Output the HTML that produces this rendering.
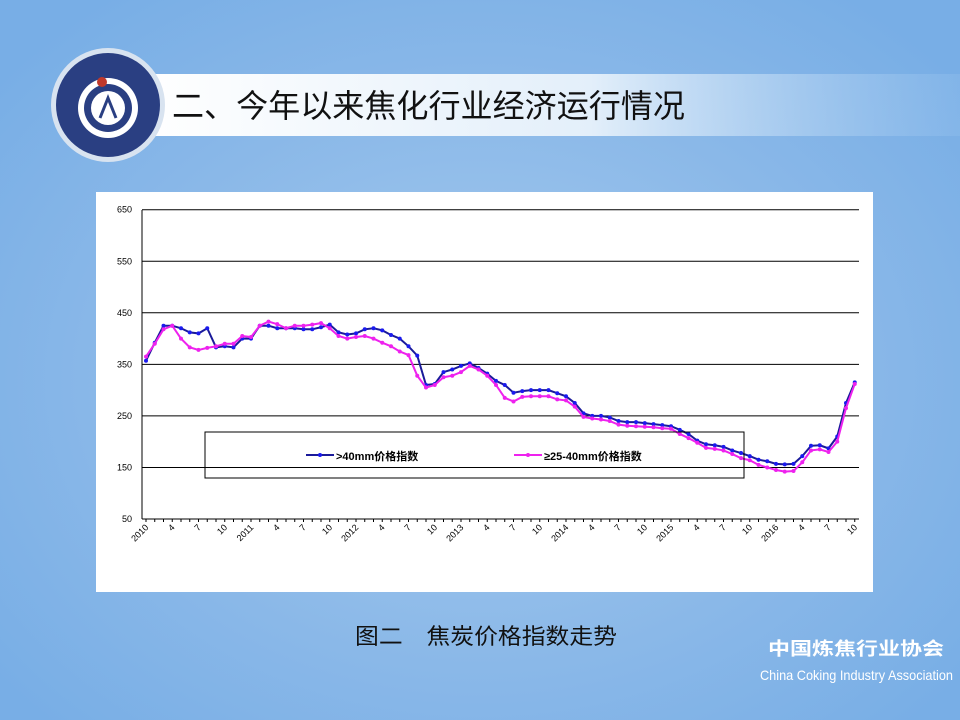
<!DOCTYPE html>
<html><head><meta charset="utf-8"><style>
body{margin:0;width:960px;height:720px;overflow:hidden;font-family:"Liberation Sans","Noto Sans CJK SC",sans-serif}
#bg{position:absolute;left:0;top:0;width:960px;height:720px;background:radial-gradient(ellipse 620px 480px at 480px 380px,#a6cbef 0%,#8ab8e8 60%,#78aee6 100%)}
</style></head><body><div id="bg"></div>
<svg width="960" height="720" style="position:absolute;left:0;top:0" id="s">
<defs><linearGradient id="tb" x1="0" x2="1"><stop offset="0" stop-color="#fff"/><stop offset="0.55" stop-color="#e3effa"/><stop offset="1" stop-color="#98c3ee" stop-opacity="0.3"/></linearGradient></defs>
<rect x="140" y="74" width="820" height="62" fill="url(#tb)"/>
<circle cx="108" cy="105" r="57" fill="#d8e3f0"/>
<circle cx="108" cy="105" r="52" fill="#2a3f82"/>
<circle cx="108" cy="108" r="30" fill="#fff"/>
<circle cx="108" cy="108" r="24" fill="#2a3f82"/>
<circle cx="108" cy="108" r="17" fill="#fff"/>
<path d="M100 118 L108 98 L116 118" stroke="#2a3f82" stroke-width="3" fill="none"/>
<circle cx="102" cy="82" r="5" fill="#c0392b"/>
<text x="172" y="117" font-size="32" textLength="513" lengthAdjust="spacingAndGlyphs" fill="#111">二、今年以来焦化行业经济运行情况</text>
<rect x="96" y="192" width="777" height="400" fill="#fff"/>
<g id="chart" font-size="9" fill="#000"></g>
<rect x="205" y="432" width="539" height="46" fill="none" stroke="#000" stroke-width="1"/>
<line x1="306" y1="455" x2="334" y2="455" stroke="#1a1a9a" stroke-width="2"/><circle cx="320" cy="455" r="2" fill="#1a1aee"/>
<text x="336" y="460" font-size="11" font-weight="bold">&gt;40mm价格指数</text>
<line x1="514" y1="455" x2="542" y2="455" stroke="#ee22ee" stroke-width="2"/><circle cx="528" cy="455" r="2" fill="#ee22ee"/>
<text x="544" y="460" font-size="11" font-weight="bold">≥25-40mm价格指数</text>
<text x="355" y="644" font-size="22" textLength="262" lengthAdjust="spacingAndGlyphs" fill="#111">图二　焦炭价格指数走势</text>
<text x="768" y="655" font-size="18" font-weight="bold" textLength="176" lengthAdjust="spacingAndGlyphs" fill="#fff">中国炼焦行业协会</text>
<text x="760" y="680" font-size="14" textLength="193" lengthAdjust="spacingAndGlyphs" fill="#fff">China Coking Industry Association</text>
</svg>
<script>
var b=[357,392,425,425,420,412,410,420,383,385,383,400,400,425,425,420,420,420,418,418,422,427,412,408,410,418,420,416,407,400,385,367,310,312,335,340,347,352,343,332,318,310,295,298,300,300,300,294,288,275,255,250,250,247,240,238,238,236,234,232,230,223,215,202,195,193,190,183,178,172,165,162,157,156,157,172,192,193,187,210,275,315];
var p=[365,390,418,425,400,383,378,382,385,390,390,405,403,425,433,428,420,425,425,427,430,420,405,400,403,405,400,392,385,375,368,328,305,310,325,328,335,347,340,328,310,285,278,287,288,288,288,282,280,268,248,245,243,240,233,231,230,229,228,226,225,215,207,198,188,186,183,176,168,164,155,150,145,142,143,160,183,185,180,200,265,312];
var g=document.getElementById('chart'),h='';
function Y(v){return 519-(v-50)*0.5155}
function X(i){return 146+i*8.75}
[650,550,450,350,250,150].forEach(function(v){var y=Y(v);h+='<line x1="142" x2="859" y1="'+y+'" y2="'+y+'" stroke="#000" stroke-width="1"/>';});
[650,550,450,350,250,150,50].forEach(function(v){h+='<text x="132" y="'+(Y(v)+3)+'" text-anchor="end">'+v+'</text>';});
h+='<line x1="142" x2="142" y1="210" y2="519" stroke="#000"/><line x1="142" x2="859" y1="519" y2="519" stroke="#000"/>';
for(var i=0;i<82;i++){var x=X(i);h+='<line x1="'+x+'" x2="'+x+'" y1="519" y2="522" stroke="#000"/>';
 if(i%3==0){var m=i%12,lab=m==0?(2010+i/12):(m+1);h+='<text transform="translate('+(x+3)+',528) rotate(-45)" text-anchor="end">'+lab+'</text>';}}
function line(d,c,mc){var s='';d.forEach(function(v,i){s+=X(i)+','+Y(v)+' '});var r='<polyline points="'+s+'" fill="none" stroke="'+c+'" stroke-width="2"/>';d.forEach(function(v,i){r+='<circle cx="'+X(i)+'" cy="'+Y(v)+'" r="2" fill="'+mc+'"/>'});return r}
h+=line(b,'#1a1a9a','#1a1aee');h+=line(p,'#ee22ee','#ee22ee');
g.innerHTML=h;
</script>
</body></html>
